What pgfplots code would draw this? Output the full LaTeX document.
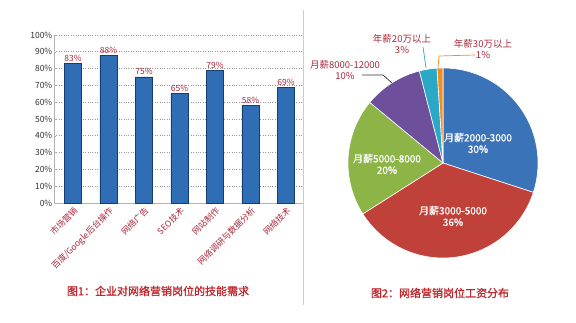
\documentclass[border=0pt]{standalone}
\usepackage{pgfplots}
\pgfplotsset{compat=1.18}
\usepackage{fontspec}
\setmainfont{Noto Sans CJK SC}
\newfontfamily\capfont[FakeBold=1.2]{Noto Sans CJK SC}
\newfontfamily\lblfont[FakeBold=0.8]{Noto Sans CJK SC}
\definecolor{barblue}{HTML}{2F6DB5}
\definecolor{baredge}{HTML}{173D70}
\definecolor{labred}{HTML}{A8283A}
\definecolor{capred}{HTML}{C0282E}
\definecolor{pieblue}{HTML}{3B73B9}
\definecolor{piered}{HTML}{C0403A}
\definecolor{piegreen}{HTML}{8DB446}
\definecolor{piepurple}{HTML}{6E4F9B}
\definecolor{pieteal}{HTML}{29A9C5}
\definecolor{pieorange}{HTML}{F28C28}
\begin{document}
\begin{tikzpicture}[x=1pt,y=1pt]
\path[use as bounding box, fill=white] (0,0) rectangle (576,323);
\draw[gray!40, line width=0.6pt] (303,18) -- (303,313);
% ---------------- bar chart ----------------
\begin{axis}[at={(54pt,120pt)}, anchor=south west, scale only axis,
  width=249pt, height=168pt,
  xmin=-0.535, xmax=6.48, ymin=0, ymax=100,
  axis x line*=bottom, axis y line*=left,
  axis line style={gray!60, -},
  ytick={0,10,...,100},
  yticklabel={\pgfmathprintnumber{\tick}\%},
  xtick={0,...,6},
  xticklabels={市场营销,百度/Google后台操作,网络广告,SEO技术,网站制作,网络调研与数据分析,网络技术},
  x tick label style={rotate=45, anchor=north east, font=\fontsize{8.5}{8.5}\selectfont, text=labred, inner sep=1pt},
  y tick label style={font=\fontsize{8.5}{8.5}\selectfont, text=black!80, inner sep=1.5pt},
  ymajorgrids, grid style={dotted, gray!80, line width=0.6pt},
  major tick length=2pt, tick style={gray!60}, xtick style={draw=none},
  ybar, bar width=17pt,
  nodes near coords={\pgfmathprintnumber{\pgfplotspointmeta}\%},
  nodes near coords style={font=\fontsize{8.5}{8.5}\selectfont, text=labred, inner sep=1.5pt},
  /pgf/number format/assume math mode=true,
  clip=false]
\addplot[fill=barblue, draw=baredge, line width=0.8pt] coordinates {(0,83) (1,88) (2,75) (3,65) (4,79) (5,58) (6,69)};
\end{axis}
\node[text=capred, font=\capfont\fontsize{11}{12}\selectfont] at (158,32) {图1：企业对网络营销岗位的技能需求};
% ---------------- pie chart ----------------
\def\vA{30}\def\vB{36}\def\vC{20}\def\vD{10}\def\vE{3}\def\vF{1}
\pgfmathsetmacro\aA{90-3.6*\vA}
\pgfmathsetmacro\aB{\aA-3.6*\vB}
\pgfmathsetmacro\aC{\aB-3.6*\vC}
\pgfmathsetmacro\aD{\aC-3.6*\vD}
\pgfmathsetmacro\aE{\aD-3.6*\vE}
\pgfmathsetmacro\aF{\aE-3.6*\vF}
\begin{axis}[at={(323pt,40pt)}, anchor=south west, scale only axis,
  width=240pt, height=240pt, xmin=-1.2, xmax=1.2, ymin=-1.2, ymax=1.2,
  hide axis, clip=false]
\addplot[fill=pieblue, draw=white, line width=0.6pt, domain=\aA:90, samples=60] ({0.95*cos(x)},{0.95*sin(x)}) -- (axis cs:0,0) -- cycle;
\addplot[fill=piered, draw=white, line width=0.6pt, domain=\aB:\aA, samples=60] ({0.95*cos(x)},{0.95*sin(x)}) -- (axis cs:0,0) -- cycle;
\addplot[fill=piegreen, draw=white, line width=0.6pt, domain=\aC:\aB, samples=40] ({0.95*cos(x)},{0.95*sin(x)}) -- (axis cs:0,0) -- cycle;
\addplot[fill=piepurple, draw=white, line width=0.6pt, domain=\aD:\aC, samples=30] ({0.95*cos(x)},{0.95*sin(x)}) -- (axis cs:0,0) -- cycle;
\addplot[fill=pieteal, draw=white, line width=0.6pt, domain=\aE:\aD, samples=10] ({0.95*cos(x)},{0.95*sin(x)}) -- (axis cs:0,0) -- cycle;
\addplot[fill=pieorange, draw=white, line width=0.6pt, domain=\aF:\aE, samples=5] ({0.95*cos(x)},{0.95*sin(x)}) -- (axis cs:0,0) -- cycle;
\node[text=white, align=center, font=\lblfont\fontsize{10}{11.5}\selectfont] at (axis cs:0.35,0.20) {月薪2000-3000\\30\%};
\node[text=white, align=center, font=\lblfont\fontsize{10}{11.5}\selectfont] at (axis cs:0.10,-0.53) {月薪3000-5000\\36\%};
\node[text=white, align=center, font=\lblfont\fontsize{10}{11.5}\selectfont] at (axis cs:-0.56,-0.01) {月薪5000-8000\\20\%};
\node[text=labred, align=center, font=\fontsize{9.5}{11.5}\selectfont] at (axis cs:-0.98,0.93) {月薪8000-12000\\10\%};
\node[text=labred, align=center, font=\fontsize{9.5}{11.5}\selectfont] at (axis cs:-0.41,1.19) {年薪20万以上\\3\%};
\node[text=labred, align=center, font=\fontsize{9.5}{11.5}\selectfont] at (axis cs:0.40,1.14) {年薪30万以上\\1\%};
\draw[black!80, line width=0.7pt] (axis cs:-0.81,0.88) -- (axis cs:-0.60,0.88) -- (axis cs:-0.51,0.80);
\draw[pieteal, line width=0.7pt] (axis cs:-0.20,1.16) -- (axis cs:-0.17,0.95);
\draw[pieorange, line width=0.7pt] (axis cs:0.32,1.08) -- (axis cs:-0.04,1.07) -- (axis cs:-0.05,0.95);
\end{axis}
\node[text=capred, font=\capfont\fontsize{11}{12}\selectfont] at (440,30) {图2：网络营销岗位工资分布};
\end{tikzpicture}
\end{document}
